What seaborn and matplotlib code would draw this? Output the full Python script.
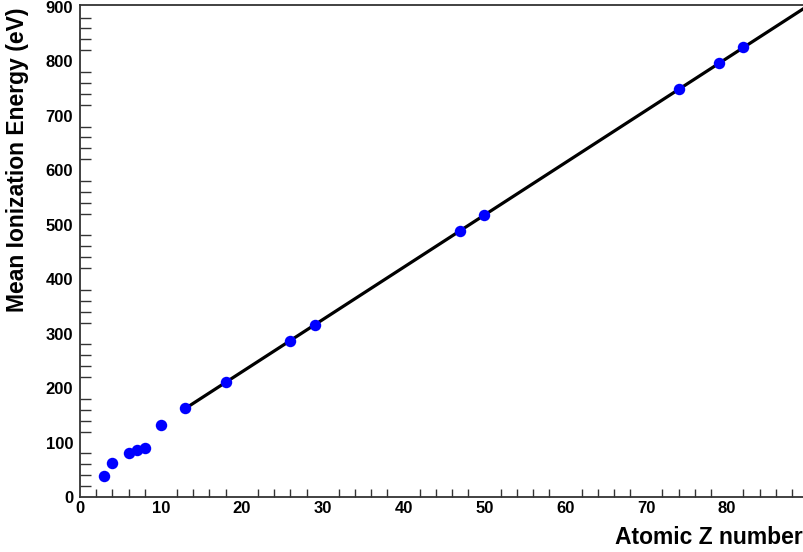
import numpy as np
import pandas as pd
import matplotlib
matplotlib.use("Agg")
import matplotlib.pyplot as plt
import seaborn as sns
from matplotlib.ticker import MultipleLocator

# Data
z_number = [3, 4, 6, 7, 8, 10, 13, 18, 26, 29, 47, 50, 74, 79, 82]
mean_ion_energy = [39, 62, 80, 86, 90, 132, 164, 211, 286, 315, 488, 517, 748, 796, 826]
fit_z_min = 13
fit_z_max = 90

sns.set_theme(style="white")
plt.rcParams['font.family'] = ['Liberation Sans', 'DejaVu Sans']
plt.rcParams['font.weight'] = 'bold'
plt.rcParams['text.color'] = 'black'
plt.rcParams['xtick.color'] = 'black'
plt.rcParams['ytick.color'] = 'black'

df = pd.DataFrame({"Z": z_number, "I": mean_ion_energy})
fit_df = df[df["Z"] >= fit_z_min]
slope, intercept = np.polyfit(fit_df["Z"], fit_df["I"], 1)
line_z = np.array([fit_z_min, fit_z_max], dtype=float)
line_df = pd.DataFrame({"Z": line_z, "I": slope * line_z + intercept})

fig = plt.figure(figsize=(8.04, 5.52), dpi=100)
ax = fig.add_axes([80/804, 55/552, 724/804, 492/552])

sns.lineplot(data=line_df, x="Z", y="I", ax=ax, color="black", linewidth=2.3, zorder=3)
sns.scatterplot(data=df, x="Z", y="I", ax=ax, color="#0000ff", s=68, edgecolor="#0000ff",
                linewidth=0, zorder=4)

ax.set_xlim(0, 89.5)
ax.set_ylim(0, 903)
ax.xaxis.set_major_locator(MultipleLocator(10))
ax.xaxis.set_minor_locator(MultipleLocator(2))
ax.yaxis.set_major_locator(MultipleLocator(100))
ax.yaxis.set_minor_locator(MultipleLocator(20))

ax.tick_params(axis='x', which='major', direction='in', length=10.5, width=1, color='#333333',
               labelsize=12, labelcolor='black', pad=3, top=False)
ax.tick_params(axis='x', which='minor', direction='in', length=5.5, width=1, color='#333333',
               bottom=True, top=False)
ax.tick_params(axis='y', which='major', direction='in', length=15, width=1, color='#333333',
               labelsize=12, labelcolor='black', pad=5, right=False)
ax.tick_params(axis='y', which='minor', direction='in', length=8, width=1, color='#333333',
               left=True, right=False)
for lab in ax.get_xticklabels() + ax.get_yticklabels():
    lab.set_fontweight('bold')

for side in ['left', 'bottom', 'top']:
    ax.spines[side].set_visible(True)
    ax.spines[side].set_color('#333333')
    ax.spines[side].set_linewidth(1.3)
ax.spines['right'].set_visible(False)

ax.set_xlabel("")
ax.set_ylabel("")
fig.text(803/804, 1 - 537/552, "Atomic Z number", ha='right', va='center',
         fontsize=16.5, fontweight='bold', color='black')
fig.text(18/804, 1 - 8/552, "Mean Ionization Energy (eV)", ha='center', va='top',
         rotation=90, fontsize=16.5, fontweight='bold', color='black')

fig.savefig("out.png", dpi=100)
